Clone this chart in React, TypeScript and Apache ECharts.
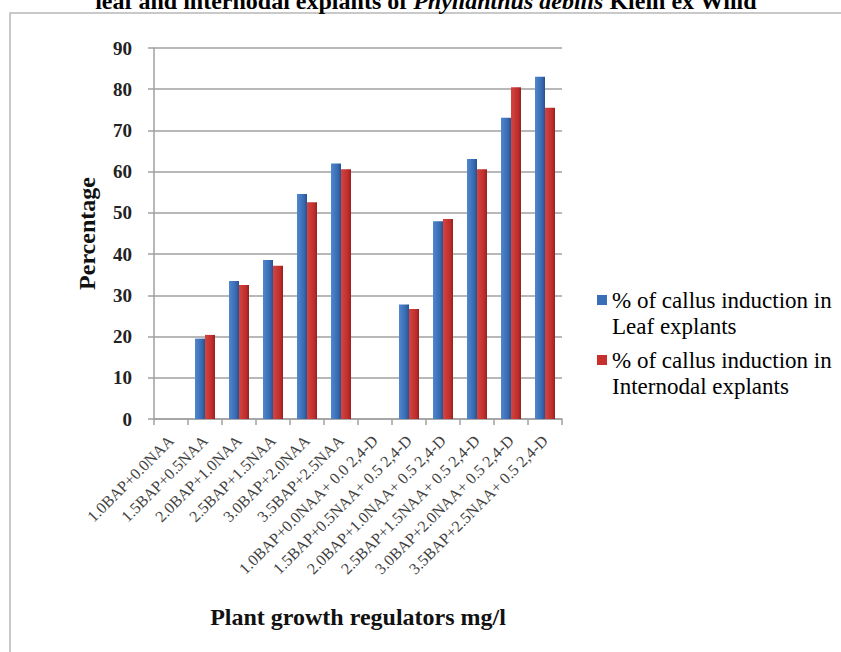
import React, { useEffect, useRef } from "react";
import * as echarts from "echarts";

const categories = [
  "1.0BAP+0.0NAA",
  "1.5BAP+0.5NAA",
  "2.0BAP+1.0NAA",
  "2.5BAP+1.5NAA",
  "3.0BAP+2.0NAA",
  "3.5BAP+2.5NAA",
  "1.0BAP+0.0NAA+ 0.0 2,4-D",
  "1.5BAP+0.5NAA+ 0.5 2,4-D",
  "2.0BAP+1.0NAA+ 0.5 2,4-D",
  "2.5BAP+1.5NAA+ 0.5 2,4-D",
  "3.0BAP+2.0NAA+ 0.5 2,4-D",
  "3.5BAP+2.5NAA+ 0.5 2,4-D",
];

const leafValues = [0, 19.5, 33.5, 38.6, 54.6, 62.0, 0, 27.8, 48.0, 63.1, 73.1, 83.0];
const internodalValues = [0, 20.4, 32.5, 37.2, 52.6, 60.6, 0, 26.7, 48.5, 60.6, 80.5, 75.5];

const yMin = 0;
const yMax = 90;
const yInterval = 10;

const leafName = "% of callus induction in\nLeaf explants";
const internodalName = "% of callus induction in\nInternodal explants";
const titleParts = ["leaf and internodal explants of ", "Phyllanthus debilis", " Klein ex Willd"];
const xName = "Plant growth regulators mg/l";
const yName = "Percentage";

const FONT = "'Liberation Serif', 'Times New Roman', serif";

export default function App() {
  const ref = useRef<HTMLDivElement>(null);
  useEffect(() => {
    if (!ref.current) return;
    const chart = echarts.init(ref.current, null, { renderer: "svg" });
    const blueGrad = new echarts.graphic.LinearGradient(0, 0, 1, 0, [
      { offset: 0, color: "#5087cf" },
      { offset: 0.7, color: "#3669b0" },
      { offset: 1, color: "#28518d" },
    ]);
    const redGrad = new echarts.graphic.LinearGradient(0, 0, 1, 0, [
      { offset: 0, color: "#d4443f" },
      { offset: 0.7, color: "#bf2e2c" },
      { offset: 1, color: "#962020" },
    ]);
    const legendIcon = "path://M0,8h10v10h-10z M0,0 L0.01,0 M0,52 L0.01,52";
    chart.setOption({
      animation: false,
      backgroundColor: "#ffffff",
      textStyle: { fontFamily: FONT },
      graphic: [
        {
          type: "rect",
          shape: { x: 10, y: 13, width: 900, height: 700 },
          style: { fill: "none", stroke: "#b8b8b8", lineWidth: 1.5 },
          silent: true,
        },
        {
          type: "text",
          x: 426,
          y: 13,
          style: {
            text: `{a|${titleParts[0]}}{b|${titleParts[1]}}{a|${titleParts[2]}}`,
            align: "center",
            verticalAlign: "bottom",
            rich: {
              a: { fontFamily: FONT, fontSize: 24, fontWeight: "bold", fill: "#000", lineHeight: 24 },
              b: { fontFamily: FONT, fontSize: 24, fontWeight: "bold", fontStyle: "italic", fill: "#000", lineHeight: 24 },
            },
          },
        },
      ],
      grid: { left: 154, right: 279, top: 48, bottom: 233, containLabel: false },
      legend: {
        orient: "vertical",
        left: 592,
        top: 282,
        itemWidth: 10,
        itemHeight: 52,
        itemGap: 8,
        icon: legendIcon,
        textStyle: { fontFamily: FONT, fontSize: 23, color: "#000", lineHeight: 26 },
        data: [
          { name: leafName, itemStyle: { color: "#3a6fb8" } },
          { name: internodalName, itemStyle: { color: "#c8302e" } },
        ],
      },
      xAxis: {
        type: "category",
        data: categories,
        name: xName,
        nameLocation: "middle",
        nameGap: 186,
        nameTextStyle: { fontFamily: FONT, fontSize: 24, fontWeight: "bold", color: "#111" },
        axisLine: { show: true, lineStyle: { color: "#a0a0a0", width: 1.5 } },
        axisTick: { show: true, alignWithLabel: false, length: 6, lineStyle: { color: "#a0a0a0", width: 1.5 } },
        axisLabel: {
          interval: 0,
          rotate: 45,
          margin: 19,
          fontFamily: FONT,
          fontSize: 16,
          color: "#404040",
        },
      },
      yAxis: {
        type: "value",
        min: yMin,
        max: yMax,
        interval: yInterval,
        name: yName,
        nameLocation: "middle",
        nameGap: 55,
        nameTextStyle: { fontFamily: FONT, fontSize: 24, fontWeight: "bold", color: "#111" },
        axisLine: { show: true, lineStyle: { color: "#a0a0a0", width: 1.5 } },
        axisTick: { show: true, length: 6, lineStyle: { color: "#a0a0a0", width: 1.5 } },
        axisLabel: { margin: 22, fontFamily: FONT, fontSize: 19, fontWeight: "bold", color: "#222" },
        splitLine: { show: true, lineStyle: { color: "#a0a0a0", width: 1.5 } },
      },
      series: [
        {
          name: leafName,
          type: "bar",
          data: leafValues,
          barWidth: 10,
          barGap: "0%",
          itemStyle: { color: blueGrad },
        },
        {
          name: internodalName,
          type: "bar",
          data: internodalValues,
          barWidth: 10,
          barGap: "0%",
          itemStyle: { color: redGrad },
        },
      ],
    });
    return () => chart.dispose();
  }, []);
  return (
    <div
      ref={ref}
      style={{ position: "fixed", left: 0, top: 0, width: 841, height: 652, background: "#fff" }}
    />
  );
}
